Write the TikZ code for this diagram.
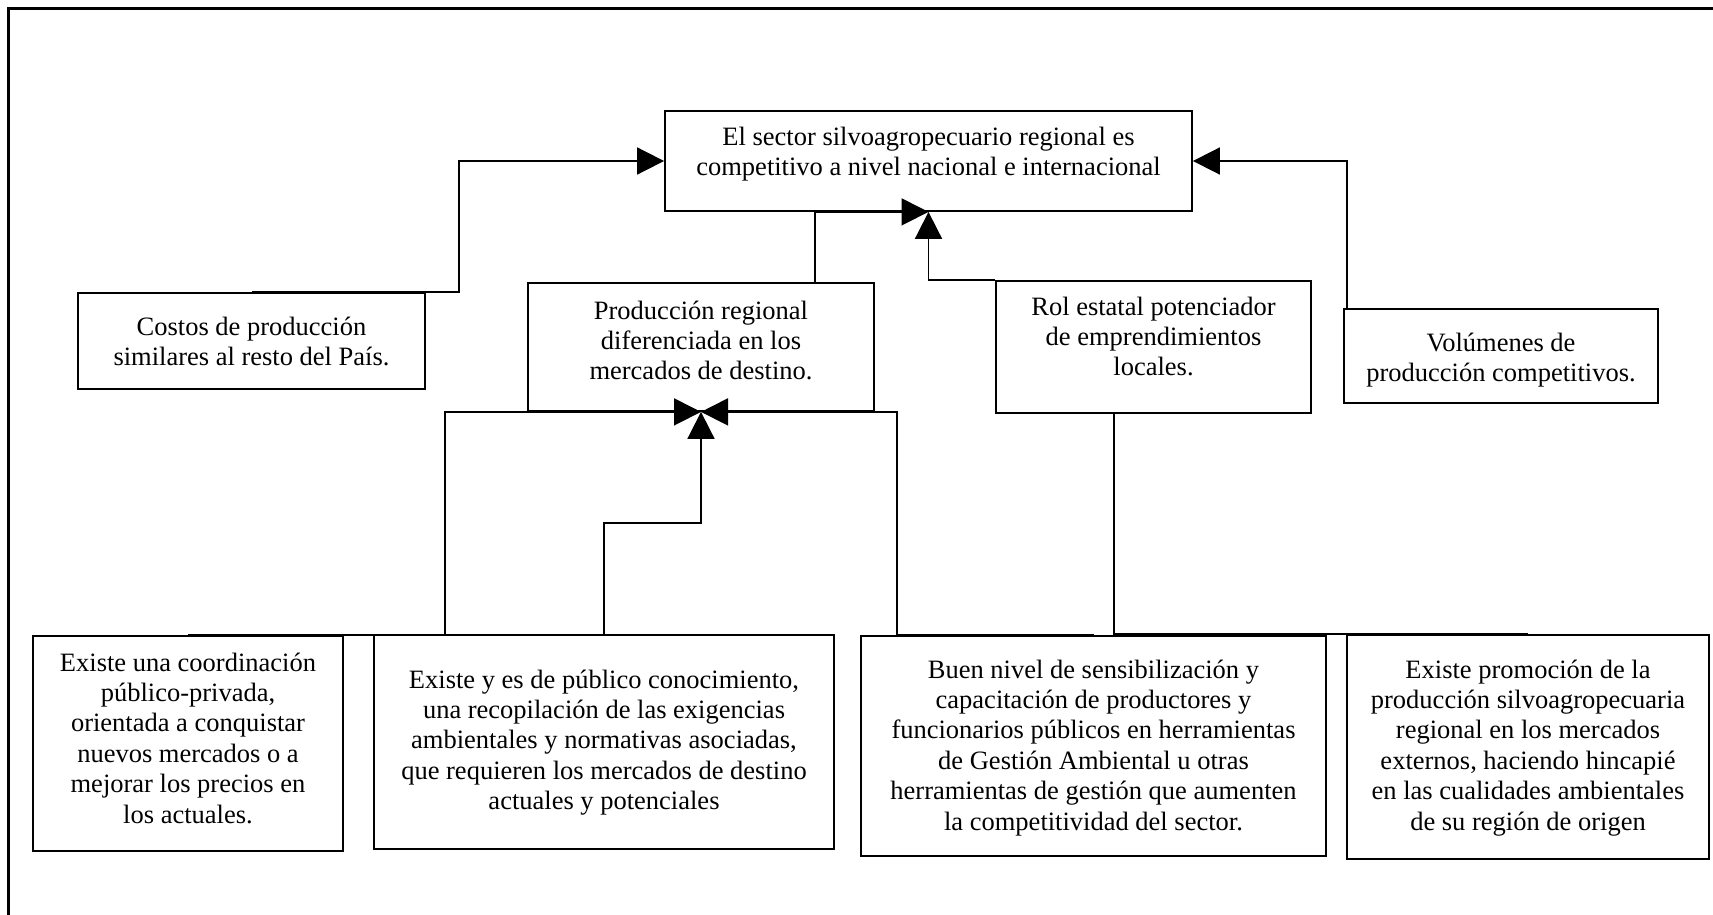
\documentclass[tikz,border=0pt]{standalone}
\usepackage{fontspec}
\setmainfont{Liberation Serif}
\usetikzlibrary{arrows.meta}
\begin{document}
\begin{tikzpicture}[x=1pt,y=-1pt,
  box/.style={draw, line width=1.8pt, inner sep=0pt},
  txt/.style={anchor=north, inner sep=0pt, align=center, font=\fontsize{26.5}{30.4}\selectfont},
  conn/.style={line width=1.8pt},
  arr/.style={conn, -{Triangle[length=27pt,width=27pt]}},
  frame/.style={line width=3pt}]
\useasboundingbox (0,0) rectangle (1713,915);
\draw[frame] (8,915) -- (8,9) -- (1713,9);

% boxes
\node[box, minimum width=527pt, minimum height=100pt] (top) at (928.5,161) {};
\node[box, minimum width=347pt, minimum height=96pt] (costos) at (251.5,341) {};
\node[box, minimum width=346pt, minimum height=128pt] (prod) at (701,347) {};
\node[box, minimum width=315pt, minimum height=132pt] (rol) at (1153.5,347) {};
\node[box, minimum width=314pt, minimum height=94pt] (vol) at (1501,356) {};
\node[box, minimum width=310pt, minimum height=215pt] (coord) at (188,743.5) {};
\node[box, minimum width=460pt, minimum height=214pt] (ey) at (604,742) {};
\node[box, minimum width=465pt, minimum height=220pt] (bn) at (1093.5,746) {};
\node[box, minimum width=362pt, minimum height=224pt] (pr) at (1528,747) {};

% texts
\node[txt] (topT) at (928.5,123.7) {\strut El sector silvoagropecuario regional es\\competitivo a nivel nacional e internacional};
\node[txt] (costosT) at (251.5,313.7) {\strut Costos de producción\\similares al resto del País.};
\node[txt] (prodT) at (701,297.7) {\strut Producción regional\\diferenciada en los\\mercados de destino.};
\node[txt] (rolT) at (1153.5,293.7) {\strut Rol estatal potenciador\\de emprendimientos\\locales.};
\node[txt] (volT) at (1501,329.7) {\strut Volúmenes de\\producción competitivos.};
\node[txt] (coordT) at (188,649.7) {\strut Existe una coordinación\\público-privada,\\orientada a conquistar\\nuevos mercados o a\\mejorar los precios en\\los actuales.};
\node[txt] (eyT) at (604,666.7) {\strut Existe y es de público conocimiento,\\una recopilación de las exigencias\\ambientales y normativas asociadas,\\que requieren los mercados de destino\\actuales y potenciales};
\node[txt] (bnT) at (1093.5,656.7) {\strut Buen nivel de sensibilización y\\capacitación de productores y\\funcionarios públicos en herramientas\\de Gestión Ambiental u otras\\herramientas de gestión que aumenten\\la competitividad del sector.};
\node[txt] (prT) at (1528,656.7) {\strut Existe promoción de la\\producción silvoagropecuaria\\regional en los mercados\\externos, haciendo hincapié\\en las cualidades ambientales\\de su región de origen};

% connectors
\draw[arr] (costos.north) -- ++(207.5,0) |- (top.west);
\draw[arr] ([xshift=4pt]vol.north west) |- (top.east);
\draw[arr] ([xshift=114pt]prod.north) |- (top.south);
\draw[arr] (rol.north west) -| (top.south);
\draw[arr] (coord.north) -- ++(257,0) |- (prod.south);
\draw[arr] (ey.north) |- ([yshift=-111pt]prod.south) -- (prod.south);
\draw[arr] (bn.north) -- ++(-196.5,0) |- (prod.south);
\draw[conn] (pr.north) -| ([xshift=-39.5pt]rol.south);
\end{tikzpicture}
\end{document}
